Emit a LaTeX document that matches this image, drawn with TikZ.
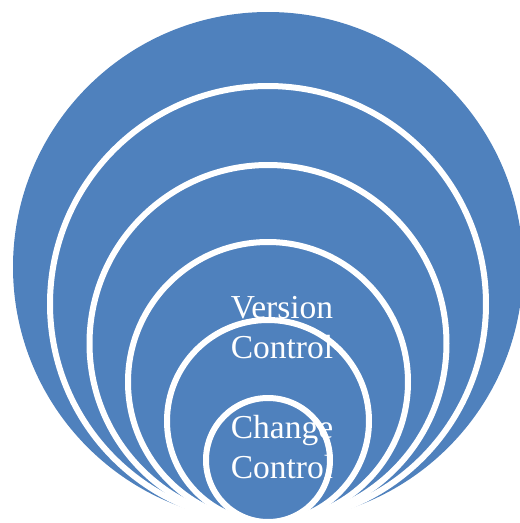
\documentclass[tikz,border=0pt]{standalone}
\usepackage{fontspec}
\setmainfont{Liberation Serif}
\definecolor{ringblue}{HTML}{4F81BD}
\tikzset{
  outerdisk/.style={circle, fill=ringblue, inner sep=0pt, outer sep=0pt},
  ring/.style={circle, fill=ringblue, draw=white, line width=6pt, inner sep=0pt, outer sep=0pt},
  lbl/.style={text=white, align=center, inner sep=0pt, anchor=base,
    font=\fontsize{33.5}{39.5}\selectfont}
}
\begin{document}
\begin{tikzpicture}[x=1pt,y=1pt]
\useasboundingbox (0,0) rectangle (520,-523);
\node[outerdisk, minimum size=510pt] (c1) at (268,-267) {};
\node[ring, minimum size=436pt] (c2) at (268,-304) {};
\node[ring, minimum size=357pt] (c3) at (268,-343.5) {};
\node[ring, minimum size=280pt] (c4) at (268,-382) {};
\node[ring, minimum size=202pt] (c5) at (268,-421) {};
\node[ring, minimum size=124pt] (c6) at (268,-460) {};
\node[lbl] (version) at (282,-358) {Version\\Control};
\node[lbl] (change) at (282,-478) {Change\\Control};
\end{tikzpicture}
\end{document}
